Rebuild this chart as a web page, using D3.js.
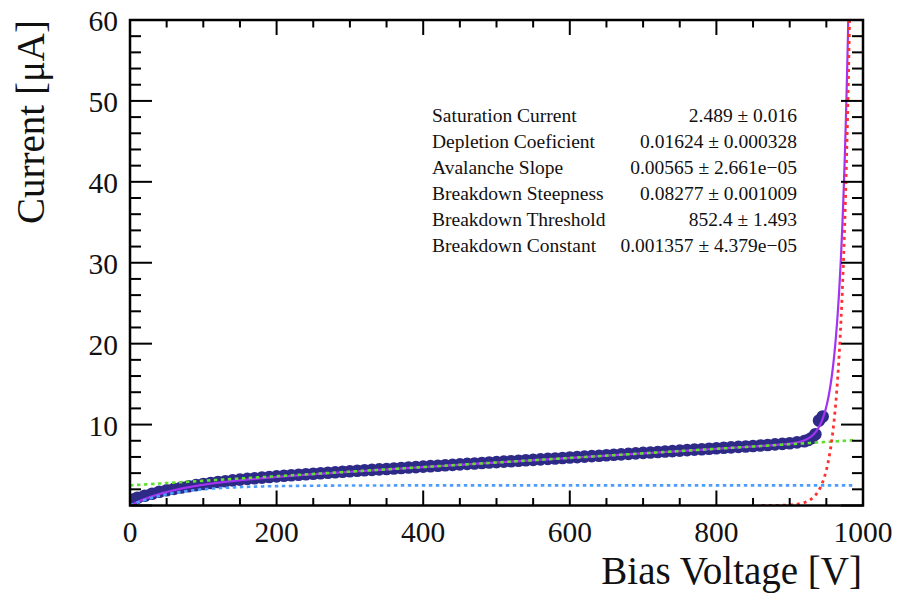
<!DOCTYPE html>
<html>
<head>
<meta charset="utf-8">
<script src="https://cdn.jsdelivr.net/npm/d3@7"></script>
<style>
  html, body { margin: 0; padding: 0; background: #fff; }
  svg { display: block; font-family: "Liberation Serif", "DejaVu Serif", serif; }
</style>
</head>
<body>
<svg id="chart" width="899" height="597"></svg>
<script>
// ---------------- data ----------------
const voltage = [0,5,10,20,30,40,50,60,70,80,90,100,110,120,130,140,150,160,170,180,190,
  200,210,220,230,240,250,260,270,280,290,300,310,320,330,340,350,360,370,380,390,
  400,410,420,430,440,450,460,470,480,490,500,510,520,530,540,550,560,570,580,590,
  600,610,620,630,640,650,660,670,680,690,700,710,720,730,740,750,760,770,780,790,
  800,810,820,830,840,850,860,870,880,890,900,910,920,925,930,935,940,945];
const current = [0.45,0.75,0.95,1.2,1.45,1.7,1.88,2.05,2.22,2.38,2.52,2.66,2.78,2.9,3.0,3.1,3.2,3.29,3.37,3.45,3.53,
  3.6,3.67,3.74,3.8,3.87,3.93,3.99,4.05,4.11,4.17,4.23,4.29,4.35,4.4,4.46,4.52,4.57,4.63,4.69,4.74,
  4.8,4.86,4.91,4.97,5.02,5.08,5.14,5.19,5.25,5.31,5.36,5.42,5.47,5.53,5.59,5.64,5.7,5.76,5.81,5.87,
  5.93,5.98,6.04,6.1,6.15,6.21,6.27,6.32,6.38,6.44,6.5,6.55,6.61,6.67,6.72,6.78,6.84,6.9,6.95,7.01,
  7.07,7.13,7.18,7.24,7.3,7.36,7.42,7.48,7.55,7.62,7.7,7.8,7.95,8.1,8.35,8.8,10.5,11.0];

// fit parameters (as printed in the stats box)
const paramNames  = ["Saturation Current","Depletion Coeficient","Avalanche Slope",
                     "Breakdown Steepness","Breakdown Threshold","Breakdown Constant"];
const paramValues = [2.489, 0.01624, 0.00565, 0.08277, 852.4, 0.001357];
const paramLabels = ["2.489", "0.01624", "0.00565", "0.08277", "852.4", "0.001357"];
const paramErrors = ["0.016", "0.000328", "2.661e\u221205", "0.001009", "1.493", "4.379e\u221205"];

const xTickValues = [0, 200, 400, 600, 800, 1000];
const yTickValues = [10, 20, 30, 40, 50, 60];
const xTitle = "Bias Voltage [V]";
const yTitle = "Current [\u03bcA]";

// ---------------- layout ----------------
const svg = d3.select("#chart");
const L = 130, R = 863, T = 20, B = 505.5;
const x = d3.scaleLinear().domain([0, 1000]).range([L, R]);
const y = d3.scaleLinear().domain([0, 60]).range([B, T]);

svg.append("rect").attr("width", 899).attr("height", 597).attr("fill", "#fff");

svg.append("defs").append("clipPath").attr("id", "clip")
  .append("rect").attr("x", L).attr("y", T).attr("width", R - L).attr("height", B - T);

const [Isat, kDep, slope, steep, thr, cBd] = paramValues;
const fSat  = v => Isat * (1 - Math.exp(-kDep * v));
const fLin  = v => Isat + slope * v;
const fBd   = v => cBd * Math.exp(steep * (v - thr));
const fFull = v => fSat(v) + slope * v + fBd(v);

const plot = svg.append("g").attr("clip-path", "url(#clip)");

// data points
plot.append("g").selectAll("circle").data(voltage.map((v, i) => [v, current[i]]))
  .join("circle")
  .attr("cx", d => x(d[0])).attr("cy", d => y(d[1])).attr("r", 6.3)
  .attr("fill", "#2e2a88");

const line = d3.line().x(d => x(d[0])).y(d => y(Math.min(d[1], 80)));
function curve(f, v0, v1, step) {
  return d3.range(v0, v1 + step / 2, step).map(v => [v, f(v)]);
}

// full fit
plot.append("path").datum(curve(fFull, 0, 1000, 0.5)).attr("d", line)
  .attr("fill", "none").attr("stroke", "#a333f0").attr("stroke-width", 2.2);

// components
plot.append("path").datum(curve(fSat, 0, 990, 1)).attr("d", line)
  .attr("fill", "none").attr("stroke", "#4c9dff").attr("stroke-width", 2.6)
  .attr("stroke-dasharray", "3.5,3.5");
plot.append("path").datum(curve(fLin, 0, 990, 1)).attr("d", line)
  .attr("fill", "none").attr("stroke", "#5fe02c").attr("stroke-width", 2.6)
  .attr("stroke-dasharray", "3.5,3.5");
plot.append("path").datum(curve(fBd, 862, 1000, 0.25)).attr("d", line)
  .attr("fill", "none").attr("stroke", "#ff3030").attr("stroke-width", 2.8)
  .attr("stroke-dasharray", "3,4");

// ---------------- frame & ticks ----------------
const axes = svg.append("g").attr("stroke", "#000");
const xMinor = d3.range(0, 1001, 50);
const yMinor = d3.range(0, 60.01, 2);
const xMaj = 15, xMin = 7.5, yMaj = 22, yMin = 11;

xMinor.forEach(v => {
  const len = xTickValues.includes(v) ? xMaj : xMin;
  axes.append("line").attr("x1", x(v)).attr("x2", x(v)).attr("y1", B).attr("y2", B - len).attr("stroke-width", 2);
  axes.append("line").attr("x1", x(v)).attr("x2", x(v)).attr("y1", T).attr("y2", T + len).attr("stroke-width", 2);
});
yMinor.forEach(v => {
  const len = (Math.round(v) % 10 === 0) ? yMaj : yMin;
  axes.append("line").attr("y1", y(v)).attr("y2", y(v)).attr("x1", L).attr("x2", L + len).attr("stroke-width", 2);
  axes.append("line").attr("y1", y(v)).attr("y2", y(v)).attr("x1", R).attr("x2", R - len).attr("stroke-width", 2);
});
axes.append("rect").attr("x", L).attr("y", T).attr("width", R - L).attr("height", B - T)
  .attr("fill", "none").attr("stroke-width", 2.5);

// tick labels
svg.append("g").selectAll("text").data(xTickValues).join("text")
  .attr("x", d => x(d)).attr("y", 542).attr("text-anchor", "middle")
  .attr("font-size", 29.5).attr("fill", "#111").text(d => d);
svg.append("g").selectAll("text").data(yTickValues).join("text")
  .attr("x", 118).attr("y", d => y(d) + 11).attr("text-anchor", "end")
  .attr("font-size", 29.5).attr("fill", "#111").text(d => d);

// axis titles
svg.append("text").attr("x", 862).attr("y", 584).attr("text-anchor", "end")
  .attr("font-size", 39).attr("fill", "#111").text(xTitle);
svg.append("text").attr("transform", "translate(44,20) rotate(-90)").attr("text-anchor", "end")
  .attr("font-size", 39).attr("fill", "#111").text(yTitle);

// stats box
const stats = svg.append("g").attr("font-size", 19.5).attr("fill", "#111");
paramNames.forEach((n, i) => {
  const yy = 121.5 + i * 26;
  stats.append("text").attr("x", 432).attr("y", yy).text(n);
  stats.append("text").attr("x", 797).attr("y", yy).attr("text-anchor", "end")
    .text(paramLabels[i] + " \u00b1 " + paramErrors[i]);
});
</script>
</body>
</html>
